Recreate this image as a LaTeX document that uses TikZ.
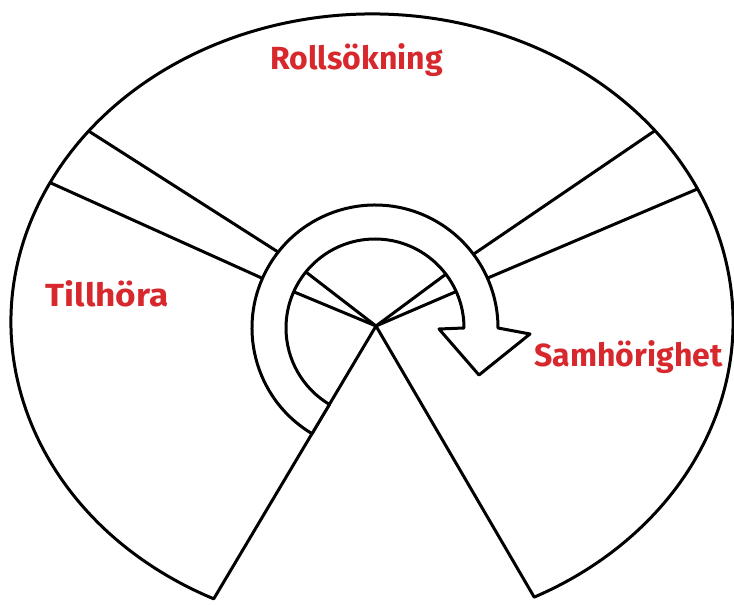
\documentclass[tikz,border=0pt]{standalone}
\usepackage{fontspec}
\setmainfont{Fira Sans}
\usetikzlibrary{calc}
\definecolor{lblred}{RGB}{214,40,45}
\begin{document}
\begin{tikzpicture}[x=1pt,y=1pt,line width=3pt,line join=round,line cap=round,
  lbl/.style={text=lblred,font=\fontsize{32}{38}\selectfont\bfseries,inner sep=0pt,anchor=base west},
  spoke/.style={draw=black},
  arrowband/.style={draw=black,fill=white}]
\useasboundingbox (0,0) rectangle (734,605);
\coordinate (E) at (372,283);
\coordinate (C) at (376,279);
\coordinate (O) at (375,277);
% spokes
\draw[spoke] ($(E)+(141.7:361 and 308)$) -- (289,346) -- (C);
\draw[spoke] ($(E)+(153.1:361 and 308)$) -- (275,321) -- (C);
\draw[spoke] ($(E)+(38.4:361 and 308)$) -- (465,345) -- (C);
\draw[spoke] ($(E)+(25.6:361 and 308)$) -- (476,322) -- (C);
% outline with wedge gap
\draw (C) -- ($(E)+(244:361 and 308)$) arc[start angle=244,end angle=-63.3,x radius=361,y radius=308] -- cycle;
% circular arrow
\draw[arrowband] ($(O)+(239.2:123)$) arc[start angle=239.2,end angle=0,radius=123]
  -- (530,271) -- (479,230) -- (439,276) -- ($(O)+(0:89)$)
  arc[start angle=0,end angle=239.2,radius=89] -- cycle;
% labels
\node[lbl] (roll) at (269,535) {Rollsökning};
\node[lbl,xscale=1.1] (till) at (44,298) {Tillhöra};
\node[lbl] (samh) at (533,238) {Samhörighet};
\end{tikzpicture}
\end{document}
